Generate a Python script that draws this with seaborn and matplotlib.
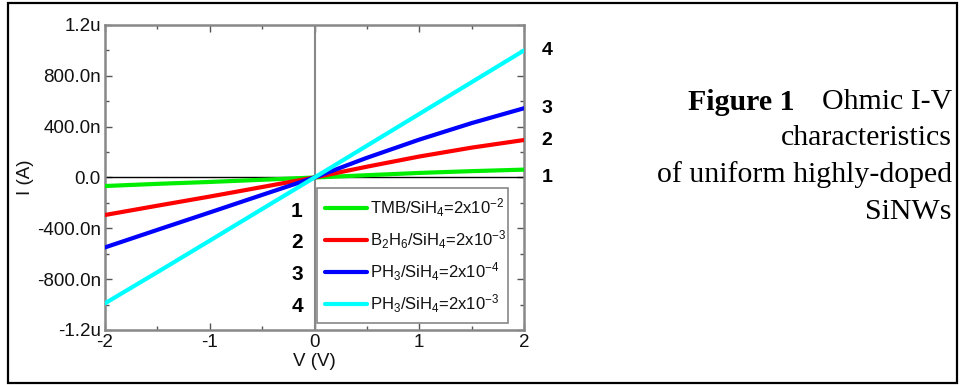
import numpy as np
import pandas as pd
import matplotlib
matplotlib.use("Agg")
import matplotlib.pyplot as plt
import seaborn as sns
from matplotlib.patches import Rectangle
from matplotlib.ticker import MultipleLocator, FixedLocator, FixedFormatter

# ---- data (current in nA) ----
voltage = [-2.0, -1.5, -1.0, -0.5, 0.0, 0.5, 1.0, 1.5, 2.0]
i_tmb = [-67, -50, -35, -18, 0, 18, 36, 50, 62]
i_b2h6 = [-295, -222, -150, -75, 0, 85, 165, 235, 295]
i_ph3_4 = [-550, -412, -275, -137, 0, 155, 298, 428, 545]
i_ph3_3 = [-990, -745, -497, -248, 0, 250, 500, 750, 1000]

labels = [r"TMB/SiH$_4$=2x10$^{-2}$",
          r"B$_2$H$_6$/SiH$_4$=2x10$^{-3}$",
          r"PH$_3$/SiH$_4$=2x10$^{-4}$",
          r"PH$_3$/SiH$_4$=2x10$^{-3}$"]
colors = ["#00ee00", "#ff0000", "#0000ff", "#00ffff"]
yticks = [-1200, -800, -400, 0, 400, 800, 1200]
yticklabels = ["-1.2u", "-800.0n", "-400.0n", "0.0", "400.0n", "800.0n", "1.2u"]
xticks = [-2, -1, 0, 1, 2]
xticklabels = ["-2", "-1", "0", "1", "2"]
end_labels = ["1", "2", "3", "4"]
end_label_y = [0, 290, 540, 1000]

df = pd.concat([
    pd.DataFrame({"V": voltage, "I": vals, "series": lab})
    for vals, lab in zip([i_tmb, i_b2h6, i_ph3_4, i_ph3_3], labels)
], ignore_index=True)

sns.set_style("ticks")
plt.rcParams["font.family"] = ["Liberation Sans", "DejaVu Sans"]
plt.rcParams["mathtext.fontset"] = "custom"
plt.rcParams["mathtext.rm"] = "Liberation Sans"
plt.rcParams["mathtext.it"] = "Liberation Sans:italic"
plt.rcParams["mathtext.bf"] = "Liberation Sans:bold"
plt.rcParams["axes.unicode_minus"] = False
plt.rcParams["text.color"] = "black"

fig = plt.figure(figsize=(9.62, 3.85), dpi=100)
ax = fig.add_axes([105/962, 1-330/385, 419/962, 305/385])

ax.axhline(0, color="black", lw=1.0, zorder=1)
ax.axvline(0, color="#888888", lw=1.5, zorder=1)

sns.lineplot(data=df, x="V", y="I", hue="series", hue_order=labels,
             palette=colors, lw=3, ax=ax, zorder=3)

ax.set_xlim(-2, 2)
ax.set_ylim(-1200, 1200)
ax.yaxis.set_major_locator(FixedLocator(yticks))
ax.yaxis.set_major_formatter(FixedFormatter(yticklabels))
ax.yaxis.set_minor_locator(MultipleLocator(200))
ax.xaxis.set_major_locator(FixedLocator(xticks))
ax.xaxis.set_major_formatter(FixedFormatter(xticklabels))
ax.xaxis.set_minor_locator(MultipleLocator(0.5))
ax.tick_params(which="both", direction="in", top=True, right=True,
               color="#555555", labelsize=13.5, labelcolor="#111111", pad=3)
ax.tick_params(which="major", length=5, width=1)
ax.tick_params(which="minor", length=3, width=1)
for s in ax.spines.values():
    s.set_color("#888888")
    s.set_linewidth(1.8)

ax.set_xlabel("V (V)", fontsize=13.5, labelpad=1, color="#111111")
ax.set_ylabel("I (A)", fontsize=13.5, labelpad=2, color="#111111")

leg = ax.legend(loc="lower left", bbox_to_anchor=(0.506, 0.023, 0.456, 0.436),
                mode="expand", borderaxespad=0, fontsize=12, handlelength=2.5,
                handletextpad=0.2, labelspacing=0.55, borderpad=0.5, frameon=True,
                fancybox=False, framealpha=1, edgecolor="#888888")
leg.get_frame().set_linewidth(1.2)
for h in leg.get_lines():
    h.set_linewidth(3)
for t in leg.get_texts():
    t.set_color("#111111")

# numbers to the left of legend
leg_y = [212, 243, 275, 307]
for lab, yp in zip(end_labels, leg_y):
    fig.text(297/962, 1 - yp/385, lab, fontsize=15, fontweight="bold",
             ha="center", va="center", color="black")

# numbers at the right end of lines
for lab, yv in zip(end_labels, end_label_y):
    ax.text(1.055, yv, lab, transform=ax.get_yaxis_transform(),
            fontsize=14, fontweight="bold", ha="center", va="center", color="black")

# caption
serif = ["Liberation Serif", "DejaVu Serif"]
fs = 21.5
fig.canvas.draw()
t1 = fig.text(952/962, 1 - 102/385, "Ohmic I-V", family=serif, fontsize=fs,
              ha="right", va="center", color="black")
fig.canvas.draw()
bb = t1.get_window_extent()
fig.text((bb.x0 - 27)/962, 1 - 102/385, "Figure 1", family=serif, fontsize=fs,
         fontweight="bold", ha="right", va="center", color="black")
for txt, yp in [("characteristics", 138), ("of uniform highly-doped", 175),
                ("SiNWs", 212)]:
    fig.text(952/962, 1 - yp/385, txt, family=serif, fontsize=fs,
             ha="right", va="center", color="black")

fig.patches.append(Rectangle((8/962, 2/385), 949/962, 380/385, transform=fig.transFigure,
                             fill=False, edgecolor="black", lw=1.6))

fig.savefig("out.png", dpi=100)
